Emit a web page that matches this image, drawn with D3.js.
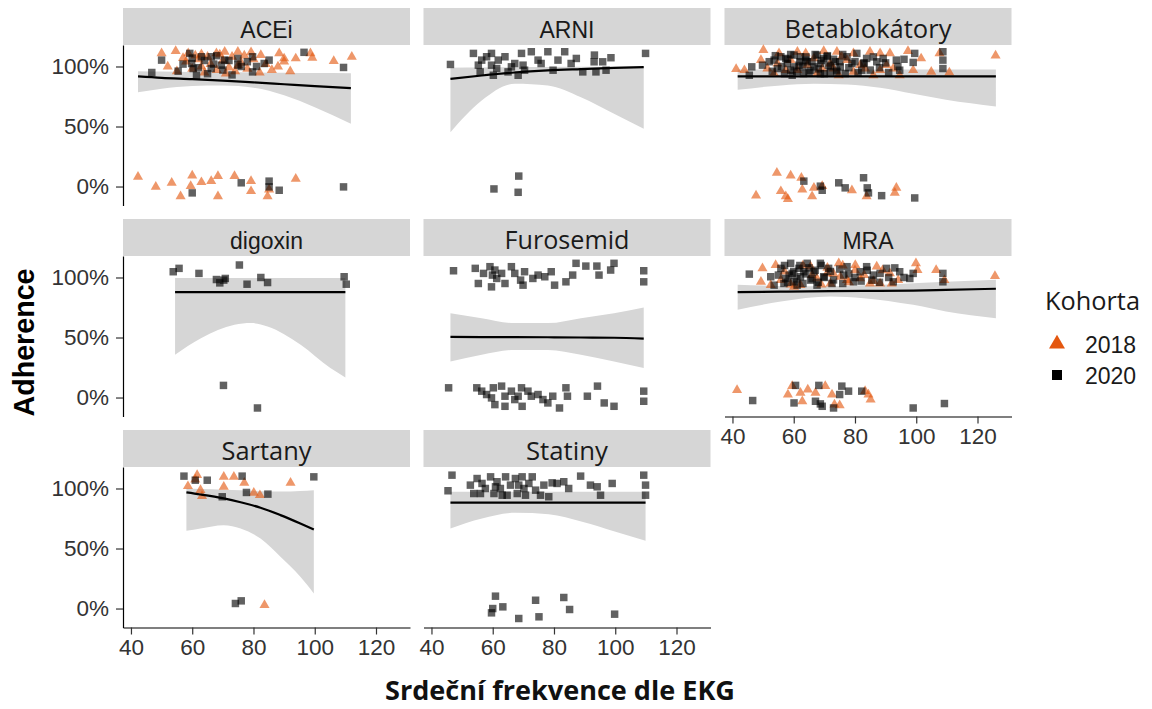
<!DOCTYPE html>
<html>
<head>
<meta charset="utf-8">
<script src="https://cdn.jsdelivr.net/npm/d3@7"></script>
<style>
  body { margin: 0; background: #fff; }
  svg { display: block; }
</style>
</head>
<body>
<svg id="chart" width="1152" height="709"></svg>
<script>
// Facets in display order, cohorts and axis ticks
const facets = ["ACEi", "ARNI", "Betablokátory", "digoxin", "Furosemid", "MRA", "Sartany", "Statiny"];
const cohorts = ["2018", "2020"];
const xTicks = [40, 60, 80, 100, 120];
const yTicks = [0, 0.5, 1];

// Points: [heart rate (bpm), adherence (1 = 100 %)], jittered as plotted
const acei2018 = [
  [50.0,1.109],[54.6,1.129],[58.7,1.109],[63.0,1.101],[67.9,1.109],[70.6,1.123],[74.9,1.123],[79.2,1.118],
  [82.4,1.095],[88.4,1.109],[90.0,1.067],[93.8,1.067],[98.6,1.109],[99.2,1.073],[106.2,1.045],[112.1,1.081],
  [52,1.0],[55,0.96],[58,1.04],[60,0.98],[62,1.06],[64,0.95],[66,1.02],[68,0.97],[70,1.05],[72,0.99],
  [74,0.96],[76,1.03],[78,0.98],[80,1.06],[82,0.95],[84,1.02],[86,0.97],[88,1.0],[90,1.04],[92,0.96],
  [61,1.09],[65,1.08],[69,1.1],[73,1.08],[77,1.09],[57,1.07],[63,1.0],[71,0.94],[75,1.01],
  [42.3,0.081],[48.1,-0.003],[53.3,0.031],[56.2,-0.081],[60.0,0.092],[59.5,0.003],[63.0,0.036],[66.2,0.045],
  [68.4,0.087],[68.4,-0.081],[73.8,0.087],[79.2,0.045],[79.2,-0.039],[84.6,-0.081],[85.1,-0.025],[93.8,0.064]
];
const acei2020 = [
  [46.8,0.95],[50.0,1.053],[59.2,1.109],[63.0,1.081],[66.2,1.081],[70.6,1.053],[74.9,1.067],[79.7,1.081],
  [83.5,1.025],[85.1,1.053],[96.5,1.118],[109.4,0.992],[55.4,0.961],[60.3,0.983],[59.8,1.025],[66.2,0.983],
  [74.9,1.011],[79.7,0.955],[61.4,0.927],[69.5,1.011],
  [57,1.02],[60,1.07],[62,0.99],[64,1.05],[65,0.94],[67,1.02],[68,1.09],[70,0.97],[72,1.05],[73,0.93],
  [76,1.0],[78,1.04],[81,1.0],
  [60.0,-0.053],[76.0,0.031],[85.1,0.045],[85.1,-0.003],[88.4,-0.031],[109.4,-0.003]
];
const arni2018 = [];
const arni2020 = [
  [46.2,1.017],[53.7,1.109],[55.3,1.011],[56.4,1.053],[58.0,1.081],[59.6,1.109],[59.6,1.011],[60.2,0.927],
  [61.8,1.053],[64.0,1.081],[65.0,0.955],[67.2,1.025],[68.3,0.927],[69.4,1.109],[69.9,1.011],[72.6,1.123],
  [74.8,1.053],[78.0,1.123],[79.7,0.969],[81.3,1.053],[83.5,1.123],[87.3,1.067],[89.4,0.955],[93.2,1.095],
  [93.7,0.955],[95.9,1.039],[97.0,0.969],[98.6,1.073],[109.9,1.109],[55.9,0.955],[61.3,0.983],[66.1,0.997],
  [70.4,0.969],[75.8,1.025],[85.6,1.025],[93.1,1.039],
  [60.4,-0.02],[68.5,0.087],[68.3,-0.048]
];
const beta2018 = [
  [41.2,0.978],[50.1,1.137],[49.3,1.053],[55.2,1.109],[61.2,1.123],[69.8,1.129],[74.1,1.123],[79.5,1.109],
  [84.9,1.123],[88.2,1.109],[91.4,1.109],[97.3,1.129],[101.6,1.067],[104.9,0.955],[107.6,1.109],[110.8,0.95],
  [125.9,1.09],[86.0,0.927],[94.6,0.927],[51.4,0.983],[57.4,0.969],[64.4,1.011],[73.0,0.983],[79.5,0.955],
  [81.7,1.011],[90.3,1.011],[99.0,0.969],[54.7,1.025],[66.6,1.067],[77.4,1.053],
  [61.2,0.969],[67.6,0.941],[71.9,1.025],[75.7,1.081],[59.0,1.053],[63.9,1.109],[69.3,0.983],[74.7,0.927],
  [83.3,0.983],[88.2,0.969],[92.5,0.983],[53.6,0.941],[43.9,0.969],
  [47.7,-0.076],[54.5,0.115],[55.8,-0.039],[57.4,-0.081],[59.0,0.092],[58.1,-0.104],[62.5,0.073],[62.8,-0.025],
  [66.0,-0.081],[66.6,-0.011],[69.3,0.003],[79.0,-0.031],[83.8,-0.081],[93.5,-0.011],[93.0,-0.053]
];
const beta2020 = [
  [45.5,0.927],[46.3,0.997],[49.8,1.011],[53.6,1.053],[55.8,1.081],[57.9,1.025],[59.5,0.927],[60.1,1.095],
  [61.7,1.011],[63.9,1.053],[65.5,0.969],[67.6,1.095],[68.7,1.025],[70.9,1.081],[71.9,0.955],[73.6,1.039],
  [75.2,0.997],[77.4,1.081],[79.0,1.025],[80.6,1.109],[82.2,0.969],[83.8,1.067],[87.1,1.039],[89.2,1.067],
  [93.5,1.053],[94.6,0.969],[99.0,1.034],[99.5,1.109],[108.7,1.123],[108.7,1.053],[108.7,0.983],[54.7,0.983],
  [59.0,0.969],[62.2,1.081],[66.6,0.997],[69.8,1.067],[74.1,0.955],[60.1,0.997],[64.4,1.039],[68.7,0.941],
  [76.8,0.941],[82.8,1.025],[63.2,0.941],[57.4,1.067],[71.3,1.011],
  [52,1.04],[53,0.96],[54,1.09],[56,1.0],[57,0.94],[58,1.06],[59,1.1],[61,0.96],[62,1.04],[63,1.0],
  [64,1.08],[65,0.95],[66,1.04],[67,1.1],[68,0.98],[69,1.05],[70,0.94],[71,1.09],[72,1.0],[73,1.06],
  [74,0.97],[75,1.04],[76,1.1],[78,0.99],[80,1.04],[81,0.95],[83,1.03],[85,0.97],[86,1.08],[88,0.99],
  [90,1.03],[91,0.95],[94,1.0],[96,1.06],
  [63.3,0.045],[68.7,0.003],[69.3,-0.031],[74.7,0.031],[76.8,-0.011],[82.8,0.073],[84.0,-0.011],[84.4,-0.053],
  [88.7,-0.076],[99.5,-0.095]
];
const digoxin2018 = [];
const digoxin2020 = [
  [53.8,1.048],[55.7,1.076],[62.2,1.034],[67.9,0.983],[69.0,0.955],[70.3,0.978],[70.8,0.992],[75.4,1.104],
  [77.9,0.944],[82.4,1.0],[84.6,0.958],[109.6,1.006],[110.3,0.944],
  [70.2,0.101],[81.3,-0.087]
];
const furosemid2018 = [];
const furosemid2020 = [
  [47.2,1.056],[54.3,1.076],[55.3,0.95],[59.1,1.09],[59.9,1.02],[60.7,1.062],[59.6,0.922],[64.0,0.95],
  [66.1,1.09],[67.2,1.034],[69.1,0.978],[69.9,0.936],[70.4,1.048],[74.8,1.02],[77.0,1.006],[79.1,1.048],
  [80.2,0.936],[83.9,0.964],[86.1,1.02],[87.2,1.118],[90.4,1.095],[94.0,1.095],[94.7,1.02],[98.5,1.062],
  [99.6,1.118],[109.3,1.056],[109.3,0.964],[57.0,1.034],[61.3,0.992],[73.1,0.992],[62.9,1.034],
  [45.6,0.081],[54.8,0.081],[56.4,0.053],[58.0,0.025],[59.6,-0.003],[60.7,-0.059],[62.9,0.095],[64.0,0.011],
  [64.0,-0.073],[66.1,0.053],[67.2,-0.017],[69.4,0.081],[69.6,-0.073],[71.5,0.053],[72.6,0.011],[74.8,0.025],
  [76.4,-0.017],[78.0,-0.045],[79.6,0.011],[81.8,-0.087],[83.9,0.081],[84.4,0.011],[90.9,0.011],[94.2,0.095],
  [96.4,-0.045],[99.6,-0.073],[109.3,0.053],[109.3,-0.031],[60.2,0.081],[68.3,0.011]
];
const mra2018 = [
  [49.8,1.076],[49.3,0.964],[54.1,1.104],[55.8,0.978],[60.1,0.922],[65.5,1.09],[67.6,0.992],[72.0,0.95],
  [74.7,1.118],[77.4,0.978],[80.1,1.104],[81.7,0.992],[87.1,1.09],[88.2,0.95],[91.4,1.034],[94.1,0.978],
  [99.9,1.118],[100.4,1.062],[106.5,1.062],[109.2,0.978],[125.7,1.011],[62.2,0.936],[70.9,1.034],[84.9,0.95],
  [75.2,1.006],[52.5,0.936],
  [57,1.05],[59,0.94],[63,1.1],[66,1.02],[69,0.94],[71,1.08],[73,1.03],[76,1.1],[78,0.96],[80,1.06],
  [83,1.02],[86,0.97],[89,1.06],[92,0.95],
  [41.5,0.062],[58.1,0.025],[59.5,0.095],[62.2,0.039],[62.8,-0.031],[64.6,0.067],[67.1,0.039],[70.3,0.095],
  [72.5,0.025],[73.3,-0.059],[75.0,-0.065],[83.3,0.053],[84.4,0.025],[85.1,-0.017]
];
const mra2020 = [
  [45.5,1.028],[52.5,1.006],[53.6,0.936],[55.8,1.076],[57.4,0.992],[59.0,1.118],[59.5,1.034],[60.1,0.964],
  [61.7,1.076],[62.2,1.006],[64.4,1.118],[65.5,0.978],[66.6,1.048],[68.7,1.118],[69.8,1.006],[71.4,1.076],
  [72.5,0.95],[76.3,1.02],[77.4,1.09],[79.5,0.964],[81.7,1.048],[83.8,1.09],[85.5,0.978],[88.2,1.034],
  [90.3,1.076],[92.5,0.964],[94.6,1.048],[97.9,0.992],[99.0,1.034],[108.7,1.034],[108.7,0.964],[56.8,0.95],
  [61.1,0.936],[67.6,0.936],[63.3,1.048],[58.5,1.02],
  [55,1.02],[57,1.1],[58,0.96],[60,1.05],[61,0.99],[62,1.1],[63,0.95],[64,1.03],[65,1.08],[66,0.99],
  [67,1.06],[68,0.96],[69,1.1],[70,1.0],[72,1.05],[73,0.98],[75,1.07],[76,0.95],[78,1.03],[80,1.0],
  [82,0.97],[84,1.06],[86,1.02],[88,0.96],[91,1.0],[93,1.08],[96,1.0],
  [46.6,-0.025],[60.6,0.101],[60.1,-0.045],[68.2,0.101],[67.1,-0.031],[68.7,-0.053],[69.3,-0.073],[73.0,-0.087],
  [75.7,0.095],[75.0,0.025],[77.9,0.053],[82.2,0.053],[99.0,-0.087],[109.2,-0.05]
];
const sartany2018 = [
  [58.6,1.019],[61.6,1.111],[62.7,0.986],[63.2,0.936],[70.3,1.097],[70.3,1.014],[73.6,1.097],[77.0,1.047],
  [80.1,0.964],[82.1,0.944],[92.1,1.047],[61.0,1.075],
  [83.6,0.028]
];
const sartany2020 = [
  [57.3,1.103],[61.0,1.069],[64.9,1.069],[76.3,1.103],[77.7,0.967],[84.7,0.953],[99.7,1.097],[69.8,0.931],
  [74.1,0.042],[76.0,0.064]
];
const statiny2018 = [];
const statiny2020 = [
  [46.7,1.111],[45.4,0.981],[52.7,1.028],[53.8,0.958],[54.9,1.083],[56.5,1.042],[57.6,1.0],[59.3,1.097],
  [60.4,0.958],[61.4,1.056],[62.5,1.0],[64.2,1.097],[64.7,0.944],[65.8,1.028],[67.4,1.083],[68.0,0.958],
  [69.6,1.097],[70.2,1.0],[71.8,1.042],[72.9,1.097],[74.0,0.986],[75.6,0.944],[76.7,1.028],[78.3,0.931],
  [79.4,1.047],[81.0,1.042],[83.2,1.056],[84.8,1.0],[88.7,1.103],[91.9,1.028],[94.1,1.014],[95.2,0.944],
  [99.0,1.042],[109.3,1.111],[109.9,1.028],[109.9,0.944],[56.0,0.958],[63.1,0.944],[70.7,0.944],[60.9,1.014],
  [68.5,1.028],
  [60.9,0.103],[60.0,0.0],[59.6,-0.036],[63.3,0.014],[68.5,-0.083],[74.0,0.069],[75.1,-0.069],[83.2,0.092],
  [85.1,-0.008],[99.8,-0.047]
];

// Logistic fits: [heart rate, fitted, lower 95 % CI, upper 95 % CI]
const aceiFit = [
  [42.3,0.917,0.786,0.961],[50,0.905,0.815,0.958],[60,0.895,0.838,0.955],[70,0.883,0.842,0.952],
  [80,0.868,0.823,0.95],[90,0.852,0.76,0.947],[100,0.836,0.66,0.945],[111.8,0.82,0.522,0.944]
];
const arniFit = [
  [46.2,0.897,0.453,0.99],[56.4,0.925,0.717,0.991],[67.2,0.95,0.856,0.993],[78.0,0.967,0.842,0.995],
  [88.8,0.978,0.744,0.997],[99.6,0.988,0.606,0.998],[109.3,0.994,0.481,0.999]
];
const betaFit = [
  [41.7,0.917,0.806,0.975],[55.8,0.917,0.842,0.975],[66.6,0.917,0.856,0.975],[77.4,0.917,0.85,0.975],
  [88.2,0.917,0.822,0.975],[99.0,0.917,0.772,0.975],[109.7,0.917,0.722,0.975],[126,0.917,0.667,0.975]
];
const digoxinFit = [
  [54.4,0.878,0.356,0.995],[63.0,0.878,0.495,0.995],[73.8,0.878,0.606,0.995],[79.2,0.878,0.62,0.995],
  [84.6,0.878,0.592,0.995],[95.4,0.878,0.439,0.995],[105.1,0.878,0.245,0.995],[110.0,0.878,0.167,0.995]
];
const furosemidFit = [
  [46.2,0.505,0.3,0.703],[56.4,0.504,0.356,0.661],[67.2,0.503,0.397,0.62],[78.0,0.502,0.397,0.62],
  [88.8,0.5,0.356,0.661],[99.6,0.498,0.3,0.703],[109.3,0.49,0.245,0.75]
];
const mraFit = [
  [41.7,0.878,0.731,0.939],[55.8,0.882,0.8,0.93],[72.0,0.886,0.842,0.928],[82.8,0.888,0.828,0.935],
  [99.0,0.891,0.772,0.953],[109.7,0.897,0.717,0.965],[126,0.906,0.661,0.981]
];
const sartanyFit = [
  [58.1,0.967,0.647,1.0],[62.7,0.95,0.667,0.995],[70.3,0.917,0.694,0.99],[75.8,0.885,0.667,0.985],
  [82.3,0.84,0.583,0.978],[88.8,0.778,0.431,0.975],[95.3,0.708,0.264,0.98],[99.7,0.658,0.125,0.986]
];
const statinyFit = [
  [46.2,0.883,0.667,0.972],[56.5,0.883,0.75,0.972],[67.4,0.883,0.797,0.972],[78.3,0.883,0.786,0.972],
  [89.2,0.883,0.722,0.972],[100.1,0.883,0.639,0.972],[109.9,0.883,0.564,0.972]
];

// Lookup tables built from the arrays above
const pointsByFacet = {
  "ACEi": {"2018": acei2018, "2020": acei2020},
  "ARNI": {"2018": arni2018, "2020": arni2020},
  "Betablokátory": {"2018": beta2018, "2020": beta2020},
  "digoxin": {"2018": digoxin2018, "2020": digoxin2020},
  "Furosemid": {"2018": furosemid2018, "2020": furosemid2020},
  "MRA": {"2018": mra2018, "2020": mra2020},
  "Sartany": {"2018": sartany2018, "2020": sartany2020},
  "Statiny": {"2018": statiny2018, "2020": statiny2020}
};
const fitByFacet = {
  "ACEi": aceiFit, "ARNI": arniFit, "Betablokátory": betaFit, "digoxin": digoxinFit,
  "Furosemid": furosemidFit, "MRA": mraFit, "Sartany": sartanyFit, "Statiny": statinyFit
};

// ---- layout & styles ----
const svg = d3.select("#chart");
const colX = [123, 423.5, 724.5];
const rowY = [8, 219, 430];
const panelW = 287, stripH = 37, panelH = 160.5;
const xDomain = [37.4, 131.1];
const yDomain = [-0.158, 1.179];
const arial = "'Liberation Sans', Arial, sans-serif";
const segoe = "'Open Sans', 'Noto Sans', sans-serif";
const stripFont = {
  "ACEi": [arial, null], "ARNI": [arial, null], "digoxin": [arial, null], "MRA": [arial, null],
  "Betablokátory": [segoe, 167], "Furosemid": [segoe, 125], "Sartany": [segoe, 90], "Statiny": [segoe, 82]
};
const colour = {"2018": "#e4570f", "2020": "#000000"};
const shape = {"2018": d3.symbolTriangle, "2020": d3.symbolSquare};
const symSize = {"2018": 44, "2020": 56};

// scale a text element so its rendered width equals target
function fitWidth(sel, target) {
  const w = sel.node().getComputedTextLength();
  if (w > 0) sel.attr("font-size", parseFloat(sel.attr("font-size")) * target / w);
}

facets.forEach((name, i) => {
  const r = Math.floor(i / 3), c = i % 3;
  const x0 = colX[c], top = rowY[r] + stripH, bottom = top + panelH;
  const x = d3.scaleLinear().domain(xDomain).range([x0, x0 + panelW]);
  const y = d3.scaleLinear().domain(yDomain).range([bottom, top]);
  const g = svg.append("g").attr("class", "facet");

  // strip
  g.append("rect").attr("x", x0).attr("y", rowY[r]).attr("width", panelW).attr("height", stripH)
    .attr("fill", "#d6d6d6");
  const [ff, tw] = stripFont[name];
  const st = g.append("text").attr("x", x0 + panelW / 2).attr("y", rowY[r] + 29.5)
    .attr("text-anchor", "middle").attr("font-family", ff).attr("font-size", 23)
    .attr("fill", "#1a1a1a").text(name);
  if (tw) fitWidth(st, tw);

  const fit = fitByFacet[name];
  // confidence band
  g.append("path").datum(fit)
    .attr("d", d3.area().x(d => x(d[0])).y0(d => y(d[2])).y1(d => y(d[3])).curve(d3.curveMonotoneX))
    .attr("fill", "#d6d6d6");

  // points
  cohorts.forEach(k => {
    g.append("g").selectAll("path").data(pointsByFacet[name][k]).join("path")
      .attr("transform", d => `translate(${x(d[0])},${y(d[1])})`)
      .attr("d", d3.symbol(shape[k], symSize[k]))
      .attr("fill", colour[k]).attr("fill-opacity", 0.62);
  });

  // fitted curve
  g.append("path").datum(fit)
    .attr("d", d3.line().x(d => x(d[0])).y(d => y(d[1])).curve(d3.curveMonotoneX))
    .attr("fill", "none").attr("stroke", "#000").attr("stroke-width", 2.2);

  // axes
  const styleAxis = ax => {
    ax.select(".domain").attr("stroke", "#000").attr("stroke-width", 1.2);
    ax.selectAll(".tick line").attr("stroke", "#333").attr("stroke-width", 1.2);
    ax.selectAll(".tick text").attr("fill", "#333").attr("font-size", 22.5).attr("font-family", arial);
  };
  if (c === 0) {
    const ay = g.append("g").attr("transform", `translate(${x0},0)`)
      .call(d3.axisLeft(y).tickValues(yTicks).tickFormat(d3.format(".0%")).tickSize(7).tickSizeOuter(0).tickPadding(7));
    styleAxis(ay);
  }
  if (r === 2 || (r === 1 && c === 2)) {
    const ax = g.append("g").attr("transform", `translate(0,${bottom})`)
      .call(d3.axisBottom(x).tickValues(xTicks).tickSize(7).tickSizeOuter(0).tickPadding(5));
    styleAxis(ax);
  }
});

// axis titles
const yTitle = svg.append("text")
  .attr("transform", "translate(34,342.5) rotate(-90)")
  .attr("text-anchor", "middle").attr("font-family", arial).attr("font-weight", "bold")
  .attr("font-size", 26).attr("fill", "#000").text("Adherence");
fitWidth(yTitle, 148);

const xTitle = svg.append("text")
  .attr("x", 560).attr("y", 700).attr("text-anchor", "middle")
  .attr("font-family", segoe).attr("font-weight", "bold").attr("font-size", 25)
  .attr("fill", "#111").text("Srdeční frekvence dle EKG");
fitWidth(xTitle, 350);

// legend
const lg = svg.append("g");
const lt = lg.append("text").attr("x", 1045).attr("y", 310).attr("font-family", segoe)
  .attr("font-size", 22).attr("fill", "#1a1a1a").text("Kohorta");
fitWidth(lt, 95);
const legendY = {"2018": 344, "2020": 375};
const legendSize = {"2018": 110, "2020": 100};
cohorts.forEach(k => {
  lg.append("path").attr("transform", `translate(1057,${legendY[k]})`)
    .attr("d", d3.symbol(shape[k], legendSize[k])).attr("fill", colour[k]);
  lg.append("text").attr("x", 1085).attr("y", legendY[k] + 8.5).attr("font-family", arial)
    .attr("font-size", 23).attr("fill", "#1a1a1a").text(k);
});
</script>
</body>
</html>
